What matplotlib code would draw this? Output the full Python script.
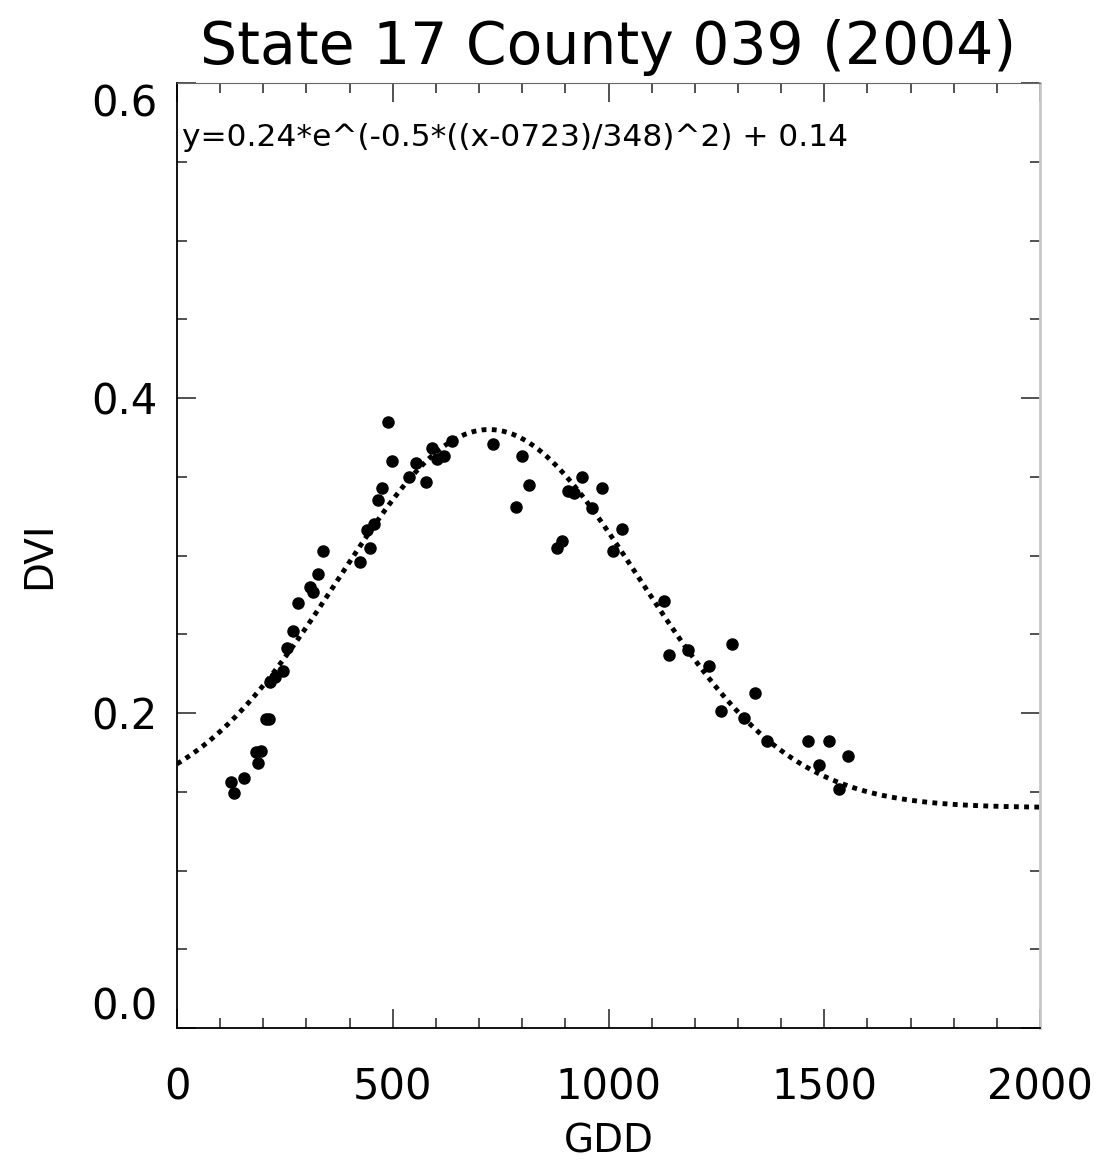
import numpy as np
import matplotlib.pyplot as plt
from matplotlib.ticker import MultipleLocator

gdd = [125, 132, 155, 183, 195, 188, 206, 213, 216, 227, 246, 255, 269, 280,
       308, 315, 327, 338, 424, 440, 447, 457, 466, 475, 489, 498, 538, 554,
       577, 591, 603, 619, 637, 732, 786, 800, 816, 881, 892, 906, 920, 939,
       962, 985, 1010, 1031, 1129, 1140, 1184, 1286, 1233, 1340, 1261, 1314,
       1367, 1462, 1511, 1555, 1488, 1534]
dvi = [0.156, 0.149, 0.159, 0.175, 0.176, 0.168, 0.196, 0.196, 0.220, 0.223,
       0.227, 0.241, 0.252, 0.270, 0.280, 0.277, 0.288, 0.303, 0.296, 0.316,
       0.305, 0.320, 0.335, 0.343, 0.385, 0.360, 0.350, 0.359, 0.347, 0.368,
       0.361, 0.363, 0.373, 0.371, 0.331, 0.363, 0.345, 0.305, 0.309, 0.341,
       0.340, 0.350, 0.330, 0.343, 0.303, 0.317, 0.271, 0.237, 0.240, 0.244,
       0.230, 0.213, 0.201, 0.197, 0.182, 0.182, 0.182, 0.173, 0.167, 0.152]

# gaussian fit parameters as printed on the chart
amp, center, width, offset = 0.24, 723, 348, 0.14
x_ticks = [0, 500, 1000, 1500, 2000]
y_ticks = [0.0, 0.2, 0.4, 0.6]

fig = plt.figure(figsize=(11.01, 11.61), dpi=100)
ax = fig.add_axes([0.1608, 0.1145, 0.7838, 0.8140])

xfit = np.linspace(0, 2000, 400)
yfit = amp * np.exp(-0.5 * ((xfit - center) / width) ** 2) + offset
ax.plot(xfit, yfit, color='black', linewidth=3.5, linestyle=(0, (1, 1.1)))
ax.plot(gdd, dvi, 'o', color='black', markersize=8)

ax.set_xlim(0, 2000)
ax.set_ylim(0, 0.6)
ax.set_xticks(x_ticks)
ax.set_yticks(y_ticks)
ax.set_yticklabels([f"{v:.1f}" for v in y_ticks])
ax.xaxis.set_minor_locator(MultipleLocator(100))
ax.yaxis.set_minor_locator(MultipleLocator(0.05))
ax.tick_params(which='both', direction='in', top=True, right=True,
               labelsize=30, width=1.2, color='#333333')
ax.tick_params(which='major', length=14)
ax.tick_params(which='minor', length=7)
ax.tick_params(axis='x', pad=28)
ax.tick_params(axis='y', pad=14)

# first and last y labels are pulled inside the axis range
ylabels = ax.get_yticklabels()
ylabels[0].set_verticalalignment('bottom')
ylabels[-1].set_verticalalignment('top')

for side in ['left', 'bottom']:
    ax.spines[side].set_color('black')
    ax.spines[side].set_linewidth(1.3)
ax.spines['top'].set_color('#666666')
ax.spines['right'].set_color('#c8c8c8')
ax.spines['right'].set_linewidth(2)

ax.set_xlabel('GDD', fontsize=28, labelpad=10)
ax.set_ylabel('DVI', fontsize=28, labelpad=24)
ax.set_title('State 17 County 039 (2004)', fontsize=42, pad=14)

ax.text(0.006, 0.942, 'y=0.24*e^(-0.5*((x-0723)/348)^2) + 0.14',
        transform=ax.transAxes, fontsize=22.5, va='center', ha='left')

fig.savefig('out.png', dpi=100)
